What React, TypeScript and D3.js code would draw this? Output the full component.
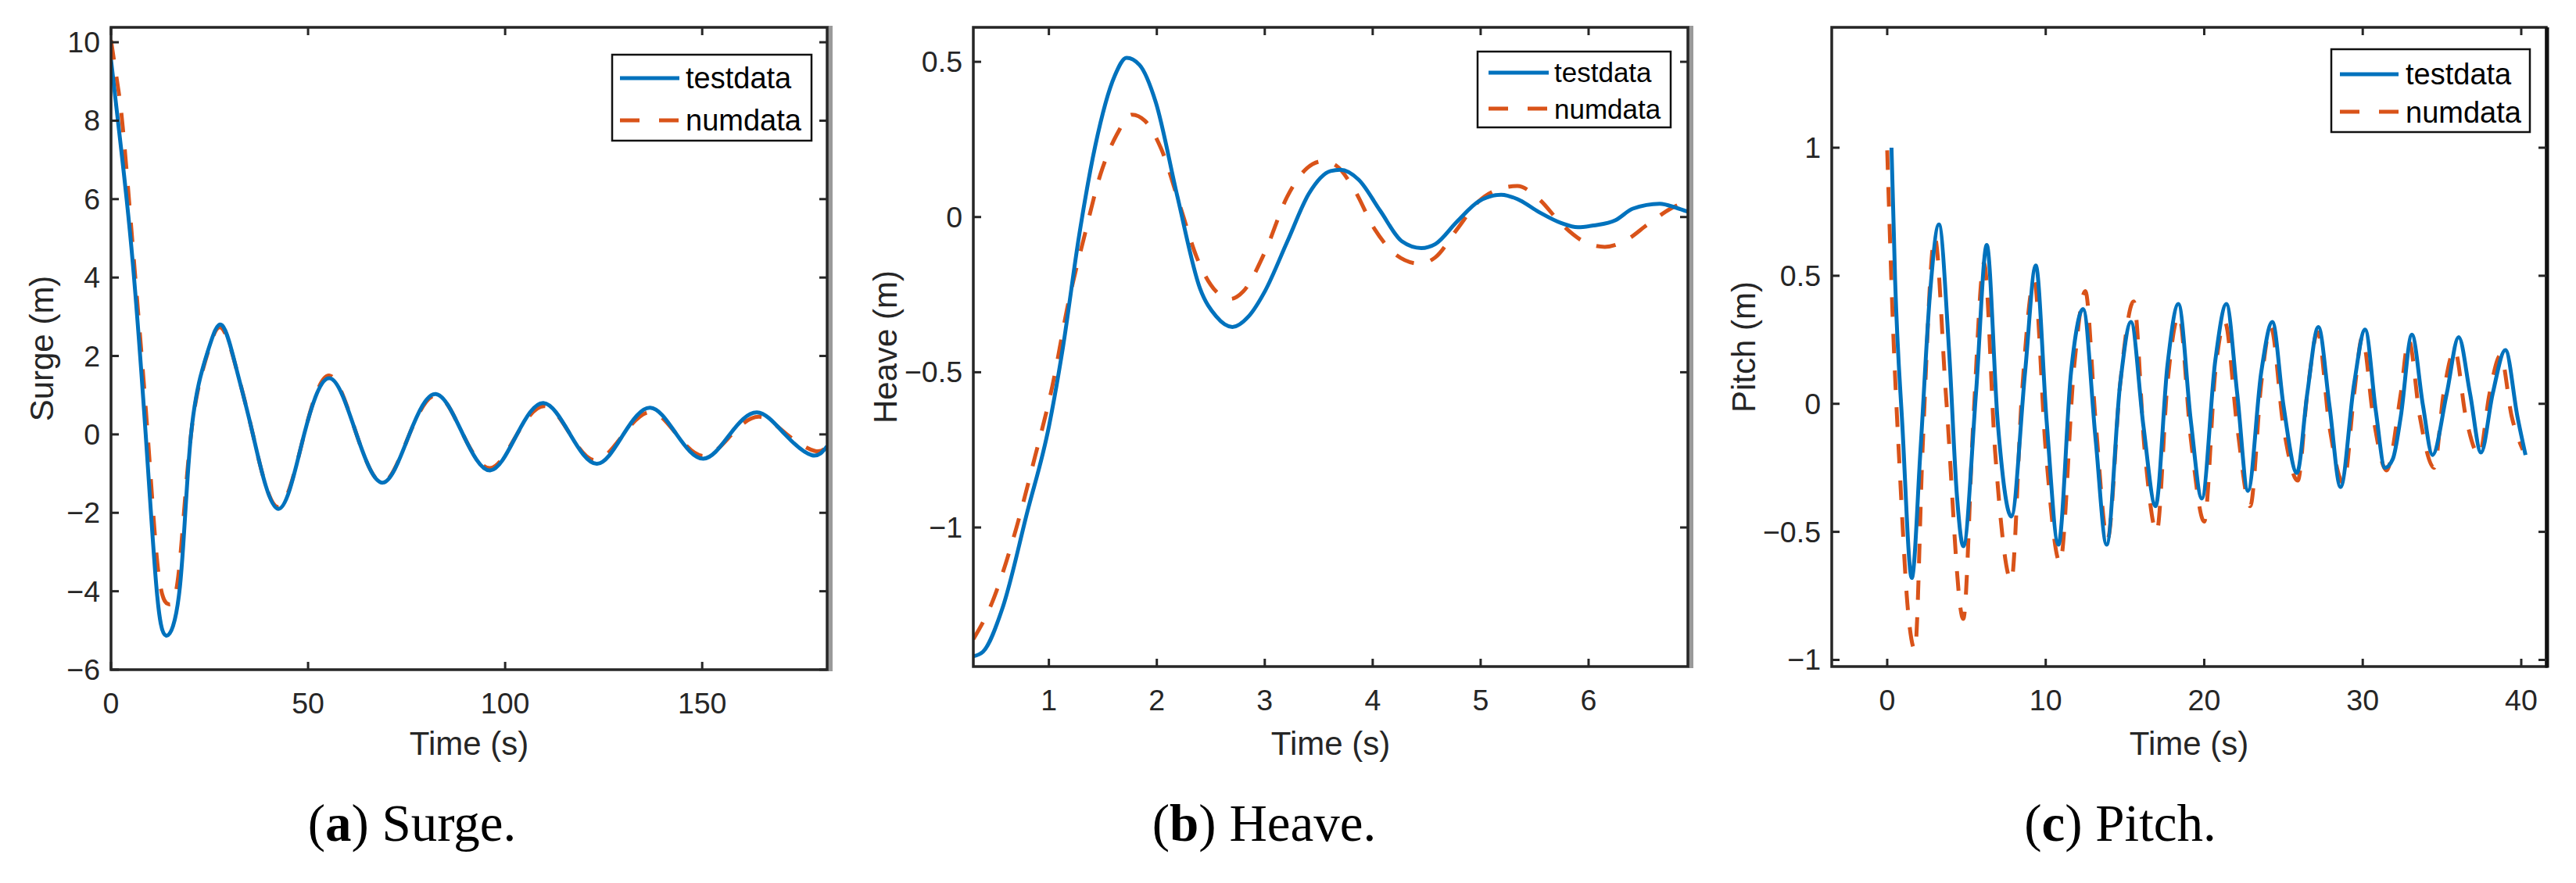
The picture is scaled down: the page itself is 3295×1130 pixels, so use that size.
import React from "react";
import * as d3 from "d3";

type Pt = [number, number];

// ---------- DATA ----------
const surgeXTicks = [0, 50, 100, 150];
const surgeYTicks = [-6, -4, -2, 0, 2, 4, 6, 8, 10];
const heaveXTicks = [1, 2, 3, 4, 5, 6];
const heaveYTicks = [-1, -0.5, 0, 0.5];
const pitchXTicks = [0, 10, 20, 30, 40];
const pitchYTicks = [-1, -0.5, 0, 0.5, 1];

const seriesNames = ["testdata", "numdata"];

const surgeTest: Pt[] = [
  [0, 9.55], [2.6, 7.25], [5.5, 4.4], [8.8, 0], [11.5, -3.87], [13.95, -5.13], [17.5, -3.87],
  [20.3, 0], [24.5, 2.1], [28.2, 2.78], [32, 1.6], [36, 0], [42.4, -1.9], [49, 0], [55.6, 1.43],
  [62.3, 0], [69, -1.23], [75.7, 0], [82.4, 1.03], [89.3, 0], [96.2, -0.92], [103, 0],
  [109.7, 0.8], [116.5, 0], [123.3, -0.75], [130, 0], [136.8, 0.68], [143.5, 0], [150.3, -0.62],
  [157, 0], [163.9, 0.56], [171, 0], [177.8, -0.53], [181.7, -0.3],
];
const surgeNum: Pt[] = [
  [0, 10.05], [1.7, 8.9], [3.2, 7.6], [6, 4.2], [9.3, 0], [12, -3.5], [14.6, -4.33], [17.2, -3.5],
  [20.3, 0], [24.3, 2.0], [28, 2.72], [32, 1.6], [36, 0], [42.3, -1.85], [49, 0], [55.5, 1.5],
  [62.3, 0], [69, -1.22], [75.7, 0], [82.6, 1.0], [89.3, 0], [96.2, -0.86], [103, 0],
  [110, 0.72], [116.5, 0], [123, -0.66], [130, 0], [137, 0.57], [143.5, 0], [150.5, -0.55],
  [157.5, 0], [164.5, 0.45], [171.5, 0], [178.5, -0.42], [181.7, -0.3],
];

const heaveTest: Pt[] = [
  [0.3, -1.415], [0.39, -1.4], [0.57, -1.26], [0.8, -0.95], [1.0, -0.675], [1.13, -0.42],
  [1.28, -0.06], [1.43, 0.23], [1.61, 0.455], [1.72, 0.513], [1.84, 0.49], [1.99, 0.37],
  [2.19, 0.067], [2.4, -0.23], [2.55, -0.32], [2.7, -0.354], [2.85, -0.32], [3.0, -0.24],
  [3.21, -0.078], [3.41, 0.076], [3.61, 0.148], [3.7, 0.152], [3.87, 0.12], [4.07, 0.02],
  [4.27, -0.078], [4.45, -0.1], [4.58, -0.087], [4.78, -0.015], [4.98, 0.05], [5.19, 0.072],
  [5.34, 0.058], [5.54, 0.016], [5.75, -0.02], [5.9, -0.033], [6.05, -0.027], [6.25, -0.01],
  [6.41, 0.027], [6.66, 0.043], [6.81, 0.03], [6.92, 0.017],
];
const heaveNum: Pt[] = [
  [0.3, -1.36], [0.47, -1.245], [0.67, -1.036], [0.87, -0.774], [1.03, -0.548], [1.18, -0.277],
  [1.33, -0.06], [1.48, 0.14], [1.63, 0.266], [1.77, 0.33], [1.89, 0.31], [2.04, 0.22],
  [2.22, 0.03], [2.37, -0.13], [2.55, -0.24], [2.68, -0.264], [2.8, -0.24], [3.0, -0.114],
  [3.21, 0.067], [3.39, 0.157], [3.54, 0.18], [3.66, 0.166], [3.82, 0.094], [4.02, -0.04],
  [4.22, -0.123], [4.43, -0.15], [4.58, -0.13], [4.78, -0.04], [4.98, 0.05], [5.21, 0.094],
  [5.34, 0.1], [5.54, 0.058], [5.75, -0.023], [5.95, -0.078], [6.15, -0.096], [6.35, -0.074],
  [6.55, -0.023], [6.76, 0.027], [6.92, 0.052],
];

const pitchTest: Pt[] = [
  [0.27, 1.0], [0.5, 0.48], [0.96, -0.09], [1.55, -0.68], [2.1, -0.18], [2.7, 0.43], [3.26, 0.7],
  [3.9, 0.21], [4.4, -0.36], [4.8, -0.556], [5.6, 0.04], [6.28, 0.62], [6.97, -0.07],
  [7.83, -0.44], [8.7, 0.125], [9.37, 0.54], [10.06, -0.07], [10.8, -0.55], [11.6, 0.125],
  [12.36, 0.37], [13.15, -0.14], [13.84, -0.55], [14.7, 0.08], [15.38, 0.32], [16.17, -0.09],
  [16.93, -0.4], [17.68, 0.15], [18.37, 0.39], [19.16, -0.07], [19.85, -0.37], [20.7, 0.17],
  [21.4, 0.39], [22.08, 0.04], [22.76, -0.34], [23.6, 0.125], [24.3, 0.32], [25.0, -0.007],
  [25.85, -0.27], [26.5, 0.04], [27.2, 0.3], [27.9, -0.007], [28.6, -0.325], [29.46, 0.08],
  [30.15, 0.29], [30.83, -0.03], [31.4, -0.25], [31.9, -0.215], [32.4, -0.05], [33.1, 0.27],
  [33.8, -0.007], [34.4, -0.2], [35.3, 0.04], [36.05, 0.26], [36.77, 0.04], [37.46, -0.19],
  [38.2, 0.04], [39.0, 0.21], [39.76, -0.05], [40.27, -0.2],
];
const pitchNum: Pt[] = [
  [0, 0.99], [0.38, 0.28], [0.8, -0.27], [1.3, -0.8], [1.75, -0.96], [2.23, -0.18], [3.0, 0.65],
  [3.7, 0.04], [4.8, -0.84], [5.43, -0.07], [6.11, 0.55], [6.8, -0.18], [7.83, -0.69],
  [8.5, 0.04], [9.27, 0.48], [10.0, -0.18], [10.9, -0.62], [11.8, 0.15], [12.5, 0.44],
  [13.15, -0.07], [13.9, -0.53], [14.7, 0.08], [15.55, 0.4], [16.24, -0.18], [17.0, -0.5],
  [17.68, 0.08], [18.4, 0.345], [19.16, -0.14], [20.0, -0.46], [20.7, 0.125], [21.3, 0.32],
  [22.08, -0.09], [22.9, -0.4], [23.6, 0.08], [24.2, 0.3], [25.0, -0.09], [25.9, -0.3],
  [26.5, 0.04], [27.16, 0.28], [27.9, -0.09], [28.8, -0.31], [29.46, 0.04], [29.97, 0.26],
  [30.66, -0.05], [31.5, -0.26], [32.4, 0.04], [32.9, 0.25], [33.6, -0.05], [34.5, -0.25],
  [35.1, 0.04], [35.8, 0.21], [36.5, -0.05], [37.35, -0.2], [38.0, 0.04], [38.7, 0.19],
  [39.4, -0.05], [40.1, -0.18],
];

// ---------- LAYOUT / STYLE ----------
const W = 3295;
const H = 1130;
const BLUE = "#0072BD";
const ORANGE = "#D95319";
const AXC = "#262626";
const SANS = "'Liberation Sans', Arial, Helvetica, sans-serif";
const SERIF = "'Liberation Serif', 'Times New Roman', serif";

interface LegendCfg {
  x: number; y: number; w: number; h: number;
  sx1: number; sx2: number; tx: number;
  r1: number; r2: number; b1: number; b2: number; font: number;
}
interface PanelCfg {
  key: string; left: number; right: number; top: number; bottom: number;
  xDomain: [number, number]; yDomain: [number, number];
  xTicks: number[]; yTicks: number[];
  ylabel: string; ylabelX: number; letter: string; caption: string; captionX: number;
  legend: LegendCfg; test: Pt[]; num: Pt[]; shadow: boolean; smooth: boolean;
}

const panels: PanelCfg[] = [
  {
    key: "a", left: 142, right: 1058, top: 35, bottom: 857,
    xDomain: [0, 181.7], yDomain: [-6, 10.38], xTicks: surgeXTicks, yTicks: surgeYTicks,
    ylabel: "Surge (m)", ylabelX: 68, letter: "a", caption: "Surge.", captionX: 527,
    legend: { x: 783, y: 70, w: 255, h: 110, sx1: 793, sx2: 869, tx: 877, r1: 100, r2: 154, b1: 113, b2: 167, font: 38 },
    test: surgeTest, num: surgeNum, shadow: true, smooth: true,
  },
  {
    key: "b", left: 1245, right: 2159, top: 35, bottom: 853,
    xDomain: [0.3, 6.92], yDomain: [-1.448, 0.611], xTicks: heaveXTicks, yTicks: heaveYTicks,
    ylabel: "Heave (m)", ylabelX: 1147, letter: "b", caption: "Heave.", captionX: 1617,
    legend: { x: 1890, y: 66, w: 247, h: 97, sx1: 1904, sx2: 1981, tx: 1988, r1: 93, r2: 139, b1: 105, b2: 152, font: 35 },
    test: heaveTest, num: heaveNum, shadow: true, smooth: false,
  },
  {
    key: "c", left: 2343, right: 3257, top: 35, bottom: 853,
    xDomain: [-3.5, 41.58], yDomain: [-1.026, 1.47], xTicks: pitchXTicks, yTicks: pitchYTicks,
    ylabel: "Pitch (m)", ylabelX: 2245, letter: "c", caption: "Pitch.", captionX: 2712,
    legend: { x: 2982, y: 63, w: 254, h: 106, sx1: 2993, sx2: 3068, tx: 3077, r1: 95, r2: 143, b1: 108, b2: 157, font: 38 },
    test: pitchTest, num: pitchNum, shadow: false, smooth: false,
  },
];

const fmt = (v: number) => (v < 0 ? "\u2212" + String(Math.abs(v)) : String(v));

function Panel({ p }: { p: PanelCfg }) {
  const x = d3.scaleLinear().domain(p.xDomain).range([p.left, p.right]);
  const y = d3.scaleLinear().domain(p.yDomain).range([p.bottom, p.top]);
  const line = d3
    .line<Pt>()
    .x((d) => x(d[0]))
    .y((d) => y(d[1]))
    .curve(p.smooth ? d3.curveNatural : d3.curveMonotoneX);
  const clipId = `clip-${p.key}`;
  const tl = 10;
  const cx = (p.left + p.right) / 2;
  const cy = (p.top + p.bottom) / 2;
  const L = p.legend;
  return (
    <g>
      <defs>
        <clipPath id={clipId}>
          <rect x={p.left} y={p.top} width={p.right - p.left} height={p.bottom - p.top} />
        </clipPath>
      </defs>
      <rect x={p.left} y={p.top} width={p.right - p.left} height={p.bottom - p.top} fill="#fff" />
      <g clipPath={`url(#${clipId})`}>
        <path d={line(p.num) || ""} fill="none" stroke={ORANGE} strokeWidth={5} strokeDasharray="25 22" />
        <path d={line(p.test) || ""} fill="none" stroke={BLUE} strokeWidth={5} strokeLinejoin="round" />
      </g>
      {p.shadow && (
        <rect x={p.right + 1} y={p.top - 2} width={6} height={p.bottom - p.top + 4} fill="#9a9a9a" />
      )}
      <rect x={p.left} y={p.top} width={p.right - p.left} height={p.bottom - p.top} fill="none" stroke={AXC} strokeWidth={3.5} />
      {!p.shadow && (
        <line x1={p.right + 1} x2={p.right + 1} y1={p.top} y2={p.bottom + 1.5} stroke="#111" strokeWidth={5} />
      )}
      {p.xTicks.map((t) => (
        <g key={`x${t}`}>
          <line x1={x(t)} x2={x(t)} y1={p.bottom} y2={p.bottom - tl} stroke={AXC} strokeWidth={3} />
          <line x1={x(t)} x2={x(t)} y1={p.top} y2={p.top + tl} stroke={AXC} strokeWidth={3} />
          <text x={x(t)} y={p.bottom + 56} textAnchor="middle" fontFamily={SANS} fontSize={37.5} fill={AXC}>
            {fmt(t)}
          </text>
        </g>
      ))}
      {p.yTicks.map((t) => (
        <g key={`y${t}`}>
          <line x1={p.left} x2={p.left + tl} y1={y(t)} y2={y(t)} stroke={AXC} strokeWidth={3} />
          <line x1={p.right} x2={p.right - tl} y1={y(t)} y2={y(t)} stroke={AXC} strokeWidth={3} />
          <text x={p.left - 14} y={y(t) + 13} textAnchor="end" fontFamily={SANS} fontSize={37.5} fill={AXC}>
            {fmt(t)}
          </text>
        </g>
      ))}
      <text x={cx} y={966} textAnchor="middle" fontFamily={SANS} fontSize={42} fill={AXC}>
        Time (s)
      </text>
      <text transform={`translate(${p.ylabelX},${cy}) rotate(-90)`} textAnchor="middle" fontFamily={SANS} fontSize={42} fill={AXC}>
        {p.ylabel}
      </text>
      <g>
        <rect x={L.x} y={L.y} width={L.w} height={L.h} fill="#fff" stroke="#111" strokeWidth={2.5} />
        <line x1={L.sx1} x2={L.sx2} y1={L.r1} y2={L.r1} stroke={BLUE} strokeWidth={5} />
        <line x1={L.sx1} x2={L.sx2} y1={L.r2} y2={L.r2} stroke={ORANGE} strokeWidth={5} strokeDasharray="25 25" />
        <text x={L.tx} y={L.b1} fontFamily={SANS} fontSize={L.font} fill="#000">{seriesNames[0]}</text>
        <text x={L.tx} y={L.b2} fontFamily={SANS} fontSize={L.font} fill="#000">{seriesNames[1]}</text>
      </g>
      <text x={p.captionX} y={1076} textAnchor="middle" fontFamily={SERIF} fontSize={67} fill="#000">
        (<tspan fontWeight="bold">{p.letter}</tspan>) {p.caption}
      </text>
    </g>
  );
}

export default function App() {
  return (
    <svg
      width={W}
      height={H}
      viewBox={`0 0 ${W} ${H}`}
      style={{ position: "absolute", left: 0, top: 0, display: "block", background: "#fff" }}
    >
      <rect x={0} y={0} width={W} height={H} fill="#fff" />
      {panels.map((p) => (
        <Panel key={p.key} p={p} />
      ))}
    </svg>
  );
}
